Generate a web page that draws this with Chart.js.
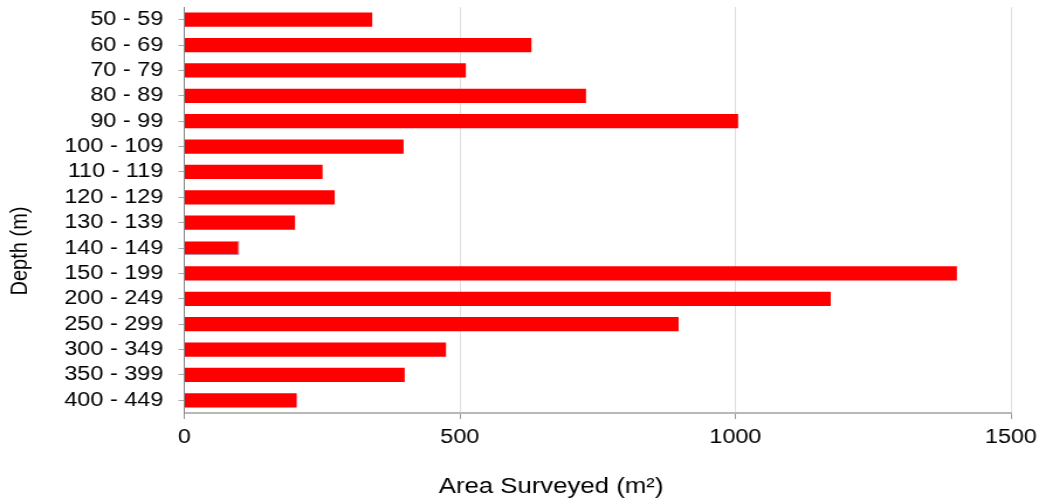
<!DOCTYPE html>
<html>
<head>
<meta charset="utf-8">
<title>Area surveyed by depth</title>
<script src="https://cdn.jsdelivr.net/npm/chart.js@4.4.1/dist/chart.umd.min.js"></script>
<style>
    html, body { margin: 0; padding: 0; background: #fff; }
</style>
</head>
<body>
<!-- the reference is a little stretched sideways, so draw narrow and widen with css -->
<canvas id="grafica" width="888" height="499" style="display:block;width:1039px;height:499px"></canvas>
<script>
const depthRanges = ['50 - 59', '60 - 69', '70 - 79', '80 - 89', '90 - 99', '100 - 109',
    '110 - 119', '120 - 129', '130 - 139', '140 - 149', '150 - 199', '200 - 249',
    '250 - 299', '300 - 349', '350 - 399', '400 - 449'];
const areaSurveyed = [341, 630, 511, 729, 1005, 398, 251, 273, 201, 100, 1402, 1173, 897, 475, 400, 204];
const xTicks = [0, 500, 1000, 1500];
const xTitle = 'Area Surveyed (m\u00B2)';
const yTitle = 'Depth (m)';

const fontFamily = '"Liberation Sans", Arial, Helvetica, sans-serif';
Chart.defaults.font.family = fontFamily;
Chart.defaults.color = '#000';

// excel puts the axis titles a bit off centre, draw them by hand
const axisTitles = {
    id: 'axisTitles',
    afterDraw(chart) {
        const ctx = chart.ctx;
        ctx.save();
        ctx.fillStyle = '#000';
        ctx.textAlign = 'center';
        ctx.textBaseline = 'middle';
        ctx.font = '22px ' + fontFamily;
        ctx.fillText(xTitle, 471, 487);
        ctx.font = '20px ' + fontFamily;
        ctx.translate(17, 251);
        ctx.rotate(-Math.PI / 2);
        ctx.fillText(yTitle, 0, 0);
        ctx.restore();
    }
};

const ctx = document.getElementById('grafica').getContext('2d');
new Chart(ctx, {
    type: 'bar',
    data: {
        labels: depthRanges,
        datasets: [{
            data: areaSurveyed,
            backgroundColor: '#ff0000',
            borderColor: depthRanges.map((d, i) => i === 9 ? '#8da3c9' : '#ff0000'),
            borderWidth: depthRanges.map((d, i) => i === 9 ? 1 : 0),
            borderSkipped: 'start',
            categoryPercentage: 1,
            barPercentage: 0.565
        }]
    },
    options: {
        indexAxis: 'y',
        responsive: false,
        animation: false,
        devicePixelRatio: 1,
        layout: { padding: { top: 7, right: 24, bottom: 46, left: 0 } },
        plugins: {
            legend: { display: false },
            tooltip: { enabled: false }
        },
        scales: {
            x: {
                min: 0,
                max: 1500,
                afterFit: s => { s.height = 40; s.paddingLeft = 0; s.paddingRight = 0; },
                afterBuildTicks: s => { s.ticks = xTicks.map(v => ({ value: v })); },
                ticks: { font: { size: 20 }, padding: 6, color: '#000', callback: v => String(v) },
                grid: {
                    color: c => c.tick && c.tick.value === 0 ? 'rgba(0,0,0,0)' : '#dedede',
                    tickColor: '#999',
                    tickLength: 6,
                    lineWidth: 1
                },
                border: { color: '#b8b8b8', width: 2 }
            },
            y: {
                afterFit: s => { s.width = 157.5; s.paddingTop = 0; s.paddingBottom = 0; },
                ticks: { font: { size: 20 }, padding: 13, color: '#000', autoSkip: false },
                grid: {
                    offset: false,
                    drawOnChartArea: false,
                    tickColor: '#aaa',
                    tickLength: 5
                },
                border: { color: '#888', width: 1 }
            }
        }
    },
    plugins: [axisTitles]
});
</script>
</body>
</html>
